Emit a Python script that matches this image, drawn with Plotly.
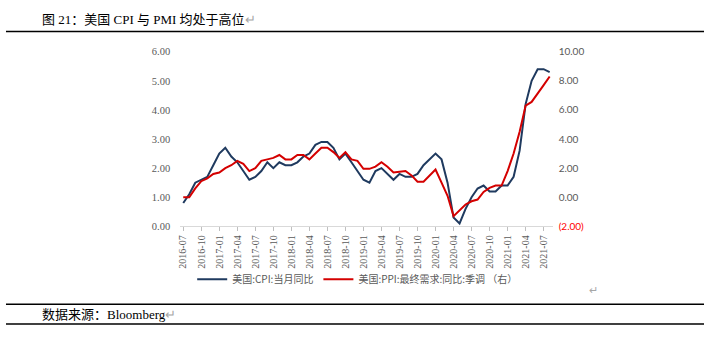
import plotly.graph_objects as go

# Monthly observations, 2016-07 .. 2021-08
months = []
for y in range(2016, 2022):
    for m in range(1, 13):
        if (y == 2016 and m < 7) or (y == 2021 and m > 8):
            continue
        months.append(f"{y}-{m:02d}")

# US CPI, y/y %, left axis
cpi = [0.8, 1.1, 1.5, 1.6, 1.7, 2.1,
       2.5, 2.7, 2.4, 2.2, 1.9, 1.6, 1.7, 1.9, 2.2, 2.0, 2.2, 2.1,
       2.1, 2.2, 2.4, 2.5, 2.8, 2.9, 2.9, 2.7, 2.3, 2.5, 2.2, 1.9,
       1.6, 1.5, 1.9, 2.0, 1.8, 1.6, 1.8, 1.7, 1.7, 1.8, 2.1, 2.3,
       2.5, 2.3, 1.5, 0.3, 0.1, 0.6, 1.0, 1.3, 1.4, 1.2, 1.2, 1.4,
       1.4, 1.7, 2.6, 4.2, 5.0, 5.4, 5.4, 5.3]

# US PPI final demand, y/y % SA, right axis
ppi = [0.0, 0.0, 0.6, 1.1, 1.3, 1.6,
       1.7, 2.0, 2.2, 2.5, 2.3, 1.8, 2.0, 2.5, 2.6, 2.7, 2.9, 2.6,
       2.6, 2.9, 2.9, 2.6, 3.0, 3.4, 3.4, 3.1, 2.7, 3.1, 2.6, 2.5,
       1.95, 1.95, 2.1, 2.4, 2.1, 1.7, 1.75, 1.8, 1.5, 1.06, 1.06, 1.5,
       1.9, 1.0, 0.1, -1.3, -0.9, -0.5, -0.28, -0.16, 0.36, 0.64, 0.8, 0.8,
       1.8, 3.0, 4.5, 6.3, 6.55, 7.1, 7.7, 8.3]

left_ticks = [0, 1, 2, 3, 4, 5, 6]
right_ticks = [-2, 0, 2, 4, 6, 8, 10]
right_text = ["<span style='color:#FF0000'>(2.00)</span>", "0.00", "2.00",
              "4.00", "6.00", "8.00", "10.00"]

cpi_name = "美国:CPI:当月同比"
ppi_name = "美国:PPI:最终需求:同比:季调 （右）"

W, H = 707, 341
def px(x):
    return x / W
def py(y):
    return 1 - y / H

fig = go.Figure()
fig.add_trace(go.Scatter(x=months, y=cpi, name=cpi_name, mode="lines",
                         line=dict(color="#1F3A5F", width=2), yaxis="y"))
fig.add_trace(go.Scatter(x=months, y=ppi, name=ppi_name, mode="lines",
                         line=dict(color="#D40000", width=2), yaxis="y2"))

serif = "Liberation Serif, Times New Roman, serif"
grey = "#595959"

fig.update_layout(
    width=W, height=H,
    margin=dict(l=0, r=0, t=0, b=0),
    paper_bgcolor="white", plot_bgcolor="white",
    xaxis=dict(
        type="category", domain=[px(178), px(552)],
        range=[-0.5, len(months) - 0.5],
        tickmode="array", tickvals=months[::3], ticktext=months[::3],
        tickangle=-90, tickfont=dict(family=serif, size=10, color=grey),
        ticks="outside", ticklen=4, tickcolor="#BFBFBF",
        showline=True, linecolor="#D9D9D9", linewidth=1,
        showgrid=False, zeroline=False, anchor="y",
    ),
    yaxis=dict(
        domain=[py(228), py(46.5)], range=[0, 6],
        tickvals=left_ticks, tickformat=".2f",
        tickfont=dict(family=serif, size=10.5, color=grey),
        showgrid=False, zeroline=False, showline=False,
        ticklabelstandoff=9,
    ),
    yaxis2=dict(
        domain=[py(228), py(46.5)], range=[-2, 10], overlaying="y",
        side="right", anchor="x",
        tickvals=right_ticks, ticktext=right_text,
        tickfont=dict(family="Lato, Liberation Sans, sans-serif", size=10, color=grey),
        showgrid=False, zeroline=False, showline=False,
        ticklabelstandoff=5,
    ),
    showlegend=True,
    legend=dict(
        orientation="h", x=px(190), y=py(283), xanchor="left", yanchor="middle",
        font=dict(family="Noto Sans CJK SC", size=10, color=grey),
        bgcolor="rgba(0,0,0,0)", itemwidth=30, tracegroupgap=0,
    ),
)

# Title, rules and source note
fig.add_annotation(x=px(37), y=py(12.5), xref="paper", yref="paper",
                   xanchor="left", yanchor="middle", showarrow=False,
                   text="图 21：美国 CPI 与 PMI 均处于高位<span style='color:#A6A6A6'>↵</span>",
                   font=dict(family="Liberation Serif, Noto Sans CJK SC", size=13, color="#000000"))
fig.add_annotation(x=px(37), y=py(320), xref="paper", yref="paper",
                   xanchor="left", yanchor="middle", showarrow=False,
                   text="数据来源：Bloomberg<span style='color:#A6A6A6'>↵</span>",
                   font=dict(family="Liberation Serif, Noto Sans CJK SC", size=13, color="#000000"))
fig.add_annotation(x=px(593), y=py(294), xref="paper", yref="paper",
                   xanchor="center", yanchor="middle", showarrow=False,
                   text="↵", font=dict(family="Liberation Serif", size=11, color="#A6A6A6"))

for yy in (25.5, 309, 329.5):
    fig.add_shape(type="line", xref="paper", yref="paper",
                  x0=px(3), x1=px(704), y0=py(yy), y1=py(yy),
                  line=dict(color="#000000", width=1.5))

fig.write_html("out.html")
